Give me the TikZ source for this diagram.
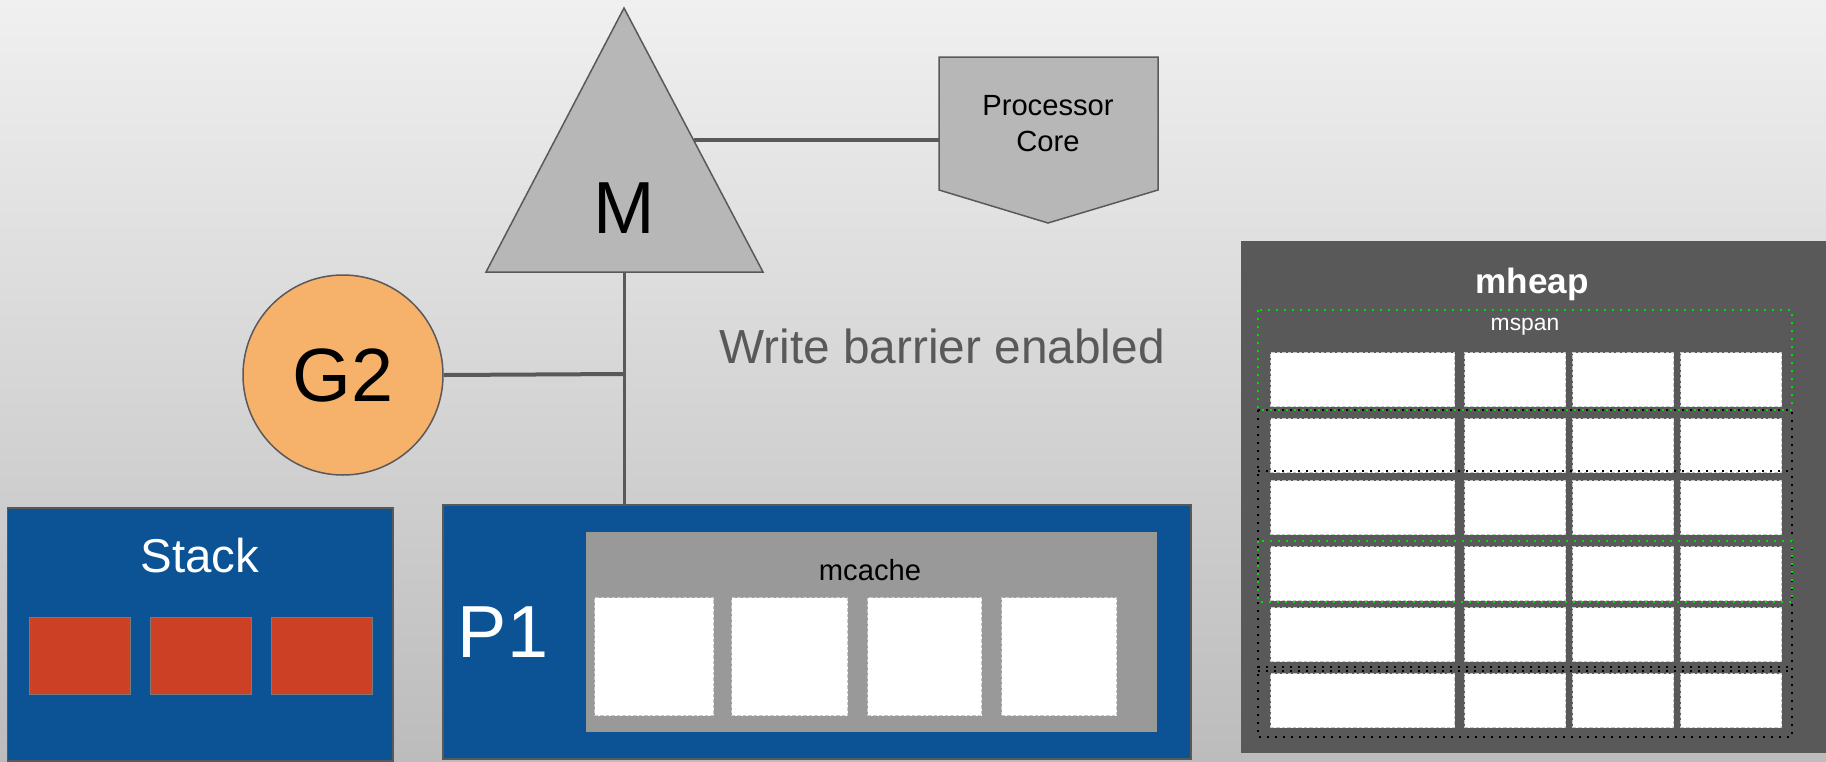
\documentclass[tikz,border=0pt]{standalone}
\usepackage{fontspec}
\setmainfont{Liberation Sans}
\usetikzlibrary{calc}
\definecolor{bgtop}{HTML}{F0F0F0}
\definecolor{bgbot}{HTML}{BCBCBC}
\definecolor{edgegray}{HTML}{595959}
\definecolor{trigray}{HTML}{B7B7B7}
\definecolor{gorange}{HTML}{F6B26B}
\definecolor{pblue}{HTML}{0B5394}
\definecolor{stackred}{HTML}{CC4125}
\definecolor{cachegray}{HTML}{999999}
\definecolor{heapgray}{HTML}{595959}
\definecolor{cellrim}{HTML}{C8C8C8}
\definecolor{spangreen}{HTML}{00E000}
\definecolor{notegray}{HTML}{595959}
\begin{document}
\begin{tikzpicture}[x=0.1mm,y=-0.1mm,
  outline/.style={draw=edgegray,line width=0.15mm},
  link/.style={draw=edgegray,line width=0.4mm},
  thinlink/.style={draw=edgegray,line width=0.3mm},
  box/.style={rectangle,inner sep=0pt,anchor=north west},
  cell/.style={box,fill=white,draw=cellrim,line width=0.12mm,dash pattern=on 0.35mm off 0.2mm},
  slot/.style={box,fill=stackred,draw=edgegray!80,line width=0.1mm,minimum width=10.1mm,minimum height=7.7mm},
  spanG/.style={draw=spangreen,line width=0.17mm,dash pattern=on 0.17mm off 0.63mm},
  spanK/.style={draw=black,line width=0.17mm,dash pattern=on 0.17mm off 0.63mm},
  lbl/.style={inner sep=0pt,anchor=base},
]
% background
\shade[top color=bgtop,bottom color=bgbot] (0,0) rectangle (1826,761);
\useasboundingbox (0,0) rectangle (1826,761);

% machine thread M
\coordinate (mtop) at (624,8);
\coordinate (mbl) at (486,272);
\coordinate (mbr) at (763,272);
\draw[outline,fill=trigray] (mtop) -- (mbr) -- (mbl) -- cycle;
\node[lbl,font=\fontsize{21}{25}\selectfont] (mlabel) at (624,233) {M};
\coordinate (mbase) at (624,272);
\coordinate (mside) at ($(mtop)!0.5!(mbr)$);

% processor core
\draw[outline,fill=trigray] (939,57) -- (1158,57) -- (1158,190) -- (1048,223) -- (939,190) -- cycle;
\node[inner sep=0pt,align=center,font=\fontsize{8.3}{10.24}\selectfont] (core) at (1048,124) {Processor\\Core};
\coordinate (corewest) at (939,140);

% goroutine G2
\node[circle,outline,fill=gorange,minimum size=20mm,inner sep=0pt,
      font=\fontsize{21.5}{25}\selectfont] (g2) at (343,375) {G2};

\node[lbl,text=notegray,font=\fontsize{13.6}{16}\selectfont] (wb) at (942,363) {Write barrier enabled};

% stack
\node[box,fill=pblue,outline,minimum width=38.5mm,minimum height=25.3mm] (stack) at (7,507) {};
\node[lbl,text=white,font=\fontsize{13.5}{16}\selectfont] (stacklabel) at (200,572) {Stack};
\node[slot] (s1) at (29,617) {};
\node[slot] (s2) at (150,617) {};
\node[slot] (s3) at (271,617) {};

% processor P1 with mcache
\node[box,fill=pblue,outline,minimum width=74.8mm,minimum height=25.4mm] (p1) at (442,504) {};
\node[lbl,text=white,font=\fontsize{21}{25}\selectfont] (p1label) at (503,657) {P1};
\node[box,fill=cachegray,minimum width=57.1mm,minimum height=20mm] (mcache) at (585,531) {};
\node[lbl,font=\fontsize{8.3}{10}\selectfont] (mcachelabel) at (870,580) {mcache};
\foreach \x/\w in {594/11.9,731/11.6,867/11.4,1001/11.5}
  \node[cell,minimum width=\w mm,minimum height=11.8mm] (mc\x) at (\x,597) {};

% mheap with spans
\node[box,fill=heapgray,minimum width=58.6mm,minimum height=51.2mm] (mheap) at (1240,240) {};
\node[lbl,text=white,font=\bfseries\fontsize{10}{12}\selectfont] (mheaplabel) at (1532,293) {mheap};
\node[lbl,text=white,font=\fontsize{6.5}{8}\selectfont] (mspanlabel) at (1525,330) {mspan};
\foreach \r/\y in {1/352,2/418,3/480,4/546,5/607,6/673}
  \foreach \c/\x/\w in {1/1270/18.4,2/1464/10.1,3/1572/10.1,4/1680/10.1}
    \node[cell,minimum width=\w mm,minimum height=5.4mm] (h\r\c) at (\x,\y) {};
\draw[spanK] (1258,410) rectangle (1792,737);
\draw[spanK] (1258,471) -- (1792,471);
\draw[spanK] (1258,667) -- (1792,667);
\draw[spanK] (1258,671) -- (1792,671);
\draw[spanG] (1258,310) rectangle (1792,410);
\draw[spanG] (1258,541) rectangle (1792,602);

% connectors
\coordinate (junction) at (624,374);
\draw[link] (mside) -- (corewest);
\draw[thinlink] (mbase) -- (mbase |- p1.north);
\draw[link] (g2.east) -- (junction);
\end{tikzpicture}
\end{document}
